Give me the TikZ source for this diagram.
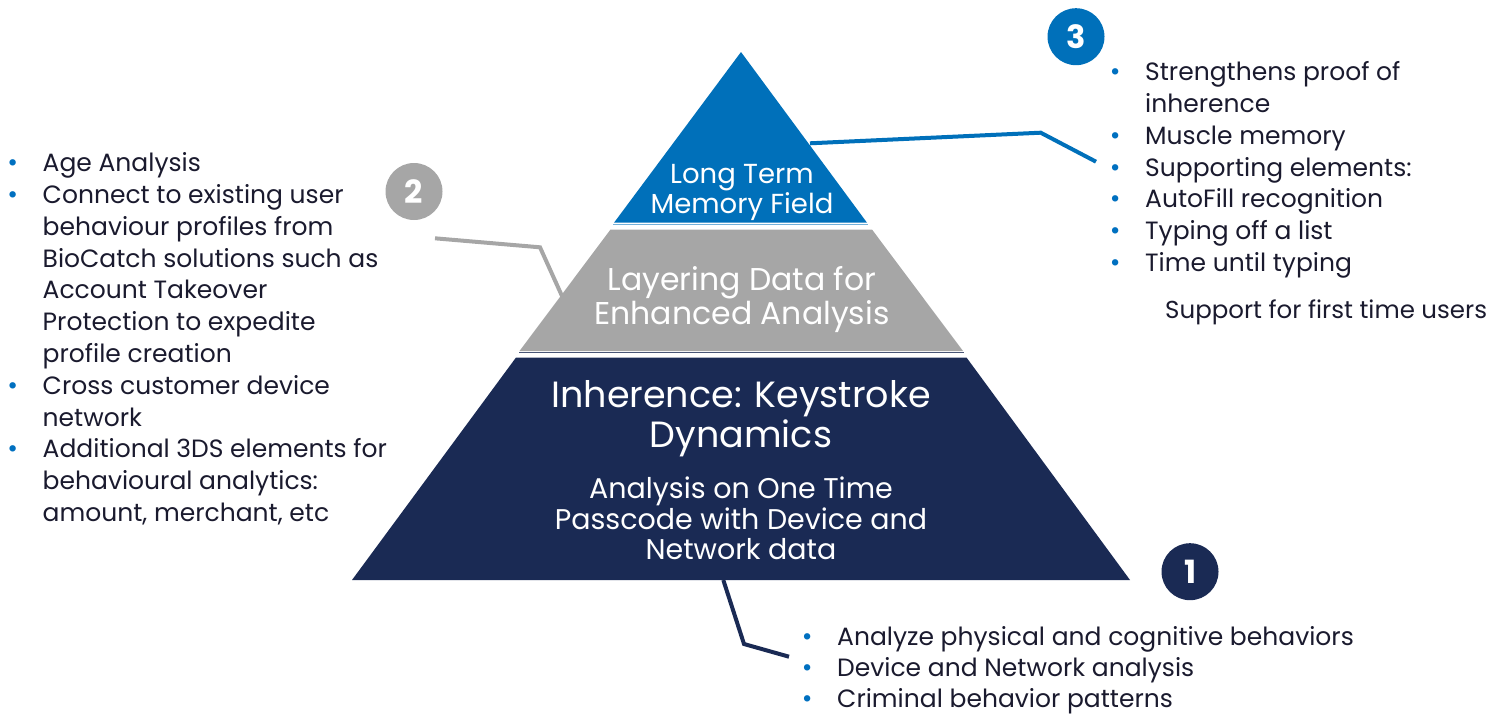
\documentclass[tikz,border=0pt]{standalone}
\usepackage{fontspec}
\setmainfont{Poppins}
\definecolor{tblue}{HTML}{0070BA}
\definecolor{tgray}{HTML}{A6A6A6}
\definecolor{tnavy}{HTML}{1A2A54}
\definecolor{ttext}{HTML}{1A1A2E}
\definecolor{bul}{HTML}{0070C0}
\newcommand\bu{\llap{\makebox[60pt]{\textcolor{bul}{\fontsize{26}{26}\selectfont\textbullet}}}}
\newcommand\tl[1]{\begin{tabular}[t]{@{}l@{}}#1\end{tabular}}
\newcommand\tc[1]{\begin{tabular}[t]{@{}c@{}}#1\end{tabular}}
\tikzset{
  lst/.style={inner sep=0pt, anchor=base west, text=ttext, font=\fontsize{25}{31.8}\selectfont},
  tiertxt/.style={inner sep=0pt, anchor=base, text=white},
  badge/.style={circle, minimum size=57pt, inner sep=0pt, text=white, font=\fontsize{32}{32}\selectfont\bfseries},
  conn/.style={line width=4pt, line join=miter}
}
\begin{document}
\begin{tikzpicture}[x=1pt,y=-1pt]
\useasboundingbox (0,0) rectangle (1504,715);
% tiers
\fill[tblue] (741,52) -- (867,222.7) -- (614,222.7) -- cycle;
\draw[line width=1.5pt, color=tblue!55] (613,224.3) -- (868,224.3);
\fill[tgray] (610.5,229.5) -- (872,229.5) -- (963,351) -- (519.5,351) -- cycle;
\draw[line width=1.5pt, color=tnavy!80] (519,352.5) -- (963.5,352.5);
\fill[tnavy] (516,357.5) -- (966.5,357.5) -- (1130,580) -- (352,580) -- cycle;
% tier texts
\node[tiertxt, font=\fontsize{27.5}{30}\selectfont] (t3) at (742,183.3) {\tc{Long Term\\Memory Field}};
\node[tiertxt, font=\fontsize{31.5}{34}\selectfont] (t2) at (742,290) {\tc{Layering Data for\\Enhanced Analysis}};
\node[tiertxt, font=\fontsize{36.5}{40}\selectfont] (t1) at (741,407) {\tc{Inherence: Keystroke\\Dynamics}};
\node[tiertxt, font=\fontsize{28.5}{30.5}\selectfont] (t1b) at (741,498.3) {\tc{Analysis on One Time\\Passcode with Device and\\Network data}};
% badges
\node[badge, fill=tblue] (b3) at (1076,36.7) {3};
\node[badge, fill=tgray] (b2) at (414,191.5) {2};
\node[badge, fill=tnavy] (b1) at (1190,571.7) {1};
% lists
\node[lst] (L2) at (42.5,171.7) {\tl{\bu Age Analysis\\
\bu Connect to existing user\\
behaviour profiles from\\
BioCatch solutions such as\\
Account Takeover\\
Protection to expedite\\
profile creation\\
\bu Cross customer device\\
network\\
\bu Additional 3DS elements for\\
behavioural analytics:\\
amount, merchant, etc}};
\node[lst] (L3) at (1145,80.7) {\tl{\bu Strengthens proof of\\
inherence\\
\bu Muscle memory\\
\bu Supporting elements:\\
\bu AutoFill recognition\\
\bu Typing off a list\\
\bu Time until typing}};
\node[lst, font=\fontsize{24.5}{31.8}\selectfont] (L3b) at (1165,318) {Support for first time users};
\node[lst, font=\fontsize{25}{31}\selectfont] (L1) at (837,645) {\tl{\bu Analyze physical and cognitive behaviors\\
\bu Device and Network analysis\\
\bu Criminal behavior patterns}};
% connectors
\coordinate (c3a) at (810,143.3);
\coordinate (c3b) at (1040.7,132.7);
\coordinate (c3c) at (1096,161.7);
\draw[conn, tblue] (c3a) -- (c3b) -- (c3c);
\coordinate (c2a) at (435,238.3);
\coordinate (c2b) at (540,247.3);
\coordinate (c2c) at (562.3,296.7);
\draw[conn, tgray] (c2a) -- (c2b) -- (c2c);
\coordinate (c1a) at (723.3,580);
\coordinate (c1b) at (744,644);
\coordinate (c1c) at (789,656.7);
\draw[conn, tnavy] (c1a) -- (c1b) -- (c1c);
\end{tikzpicture}
\end{document}
